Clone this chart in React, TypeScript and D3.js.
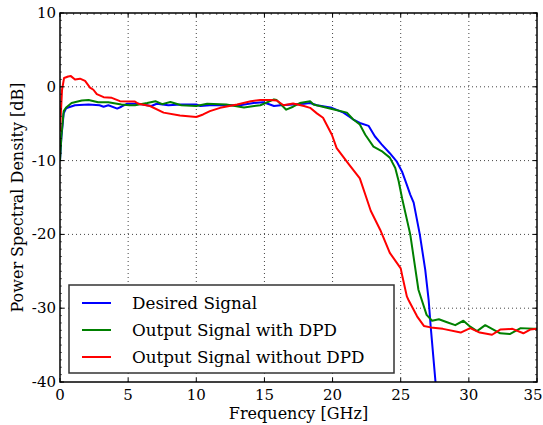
import React from "react";
import * as d3 from "d3";

const blueF = [0, 0.1, 0.27, 0.45, 0.6, 1.1, 2.1, 2.9, 3.2, 3.55, 4.2, 4.5, 4.9, 5.75, 6.7, 7.1, 7.95, 8.9, 10, 10.3, 11, 11.75, 13.2, 14.2, 14.9, 15.4, 15.7, 16.2, 17.1, 17.9, 18.35, 18.85, 19.95, 20.8, 21.5, 22.0, 22.65, 23.1, 23.6, 24.2, 24.7, 25.1, 25.45, 25.7, 25.95, 26.4, 26.8, 27.05, 27.2, 27.6];
const blueDb = [-10, -6.9, -3.6, -2.9, -2.8, -2.5, -2.4, -2.5, -2.7, -2.5, -2.95, -2.7, -2.3, -2.3, -2.6, -2.3, -2.5, -2.4, -2.4, -2.6, -2.5, -2.5, -2.5, -2.2, -2.1, -2.4, -2.6, -2.5, -2.4, -2.3, -2.2, -2.5, -2.85, -3.5, -4.4, -4.9, -5.3, -6.7, -7.8, -9.0, -10.1, -11.5, -13.3, -14.6, -15.7, -20.0, -24.8, -28.9, -32.5, -41];

const greenF = [0, 0.1, 0.27, 0.45, 0.85, 1.6, 2.1, 2.8, 3.55, 4.5, 5.1, 5.5, 6.4, 7.0, 7.5, 8.1, 8.9, 10, 10.8, 12.2, 13.5, 14.7, 15.7, 15.9, 16.6, 17.1, 17.6, 18.35, 18.6, 19.95, 21.05, 21.5, 22.0, 22.4, 23.0, 23.6, 24.2, 24.6, 24.85, 25.1, 25.7, 26.3, 26.9, 27.3, 27.8, 28.4, 29.0, 29.6, 30.1, 30.6, 31.2, 31.7, 32.3, 33.0, 33.8, 34.75, 35];
const greenDb = [-10, -6.7, -3.3, -2.8, -2.2, -1.86, -1.8, -2.1, -2.1, -2.4, -2.5, -2.5, -2.2, -1.95, -2.35, -2.05, -2.5, -2.6, -2.3, -2.4, -2.8, -2.5, -1.7, -1.8, -3.1, -2.7, -2.2, -1.95, -2.4, -3.0, -3.5, -4.4, -5.1, -6.5, -8.1, -8.7, -9.6, -11.0, -12.8, -15.1, -20, -27.5, -30.9, -31.7, -31.5, -31.9, -32.3, -31.7, -32.5, -33.1, -32.3, -32.8, -33.4, -33.5, -32.7, -32.8, -32.8];

const redF = [0, 0.15, 0.3, 0.6, 0.8, 1.1, 1.47, 1.84, 2.2, 2.45, 2.7, 3.2, 3.8, 4.4, 5.5, 5.75, 6.6, 7.6, 8.8, 10, 10.5, 11, 11.75, 13, 14, 14.7, 15.4, 15.9, 16.4, 17.1, 17.9, 18.35, 18.85, 19.3, 19.95, 20.3, 21.2, 22.0, 22.4, 22.8, 23.5, 24.2, 25.0, 25.1, 25.45, 25.6, 26.2, 26.7, 27.2, 28.1, 29.4, 30.1, 30.8, 31.7, 32.3, 33.2, 34.0, 34.5, 35];
const redDb = [-6, -0.4, 1.2, 1.4, 1.45, 1.0, 1.1, 0.8, -0.1, -0.4, -1.0, -1.4, -1.5, -1.95, -2.0, -2.3, -2.6, -3.5, -3.9, -4.1, -3.75, -3.3, -2.85, -2.4, -1.95, -1.8, -1.8, -1.85, -2.5, -2.25, -2.6, -2.85, -3.6, -4.2, -6.5, -8.3, -10.5, -12.4, -14.6, -16.8, -19.4, -22.5, -24.6, -25.5, -28.4, -29.0, -31.1, -32.4, -32.6, -32.8, -33.3, -32.7, -33.3, -33.6, -32.9, -32.8, -33.4, -32.9, -32.8];

const xTicks = [0, 5, 10, 15, 20, 25, 30, 35];
const yTicks = [-40, -30, -20, -10, 0, 10];
const seriesNames = ["Desired Signal", "Output Signal with DPD", "Output Signal without DPD"];
const seriesColors = ["#0000ff", "#008000", "#ff0000"];

const W = 543, H = 425;
const L = 60, R = 537, T = 13, B = 382;
const FONT = "DejaVu Serif";

export default function App() {
  const x = d3.scaleLinear().domain([0, 35]).range([L, R]);
  const y = d3.scaleLinear().domain([-40, 10]).range([B, T]);
  const line = d3.line<[number, number]>().x(d => x(d[0])).y(d => y(d[1]));
  const series = [
    blueF.map((f, i) => [f, blueDb[i]] as [number, number]),
    greenF.map((f, i) => [f, greenDb[i]] as [number, number]),
    redF.map((f, i) => [f, redDb[i]] as [number, number]),
  ];
  const minorY = d3.range(-40, 10.01, 1);
  const minorX = d3.range(0, 35.01, 0.5);
  return (
    <svg width={W} height={H} style={{ position: "absolute", left: 0, top: 0 }} fontFamily={FONT}>
      <rect width={W} height={H} fill="#fff" />
      <defs>
        <clipPath id="plot"><rect x={L} y={T} width={R - L} height={B - T} /></clipPath>
      </defs>
      {xTicks.slice(1, -1).map(t => (
        <line key={"gx" + t} x1={x(t)} x2={x(t)} y1={T} y2={B} stroke="#444" strokeWidth={1} strokeDasharray="1,3" />
      ))}
      {yTicks.slice(1, -1).map(t => (
        <line key={"gy" + t} x1={L} x2={R} y1={y(t)} y2={y(t)} stroke="#444" strokeWidth={1} strokeDasharray="1,3" />
      ))}
      <g clipPath="url(#plot)">
        {series.map((s, i) => (
          <path key={i} d={line(s) || ""} fill="none" stroke={seriesColors[i]} strokeWidth={2} strokeLinejoin="round" />
        ))}
      </g>
      {minorY.map(t => (
        <g key={"my" + t}>
          <line x1={L} x2={L + 2} y1={y(t)} y2={y(t)} stroke="#000" strokeWidth={0.6} />
          <line x1={R} x2={R - 2} y1={y(t)} y2={y(t)} stroke="#000" strokeWidth={0.6} />
        </g>
      ))}
      {minorX.map(t => (
        <line key={"mx" + t} x1={x(t)} x2={x(t)} y1={T} y2={T + 2} stroke="#000" strokeWidth={0.6} />
      ))}
      {xTicks.map(t => (
        <g key={"tx" + t}>
          <line x1={x(t)} x2={x(t)} y1={B} y2={B - 4} stroke="#000" />
          <line x1={x(t)} x2={x(t)} y1={T} y2={T + 4} stroke="#000" />
          <text x={Math.min(x(t), 533)} y={400} textAnchor="middle" fontSize={15}>{t}</text>
        </g>
      ))}
      {yTicks.map(t => (
        <g key={"ty" + t}>
          <line x1={L} x2={L + 4} y1={y(t)} y2={y(t)} stroke="#000" />
          <line x1={R} x2={R - 4} y1={y(t)} y2={y(t)} stroke="#000" />
          <text x={56} y={y(t) + 5} textAnchor="end" fontSize={15}>{t < 0 ? "-" + Math.abs(t) : t}</text>
        </g>
      ))}
      <rect x={L} y={T} width={R - L} height={B - T} fill="none" stroke="#000" strokeWidth={1.5} />
      <text x={(L + R) / 2} y={419} textAnchor="middle" fontSize={16}>Frequency [GHz]</text>
      <text transform={`translate(23,${(T + B) / 2}) rotate(-90)`} textAnchor="middle" fontSize={16}>Power Spectral Density [dB]</text>
      <rect x={69} y={285} width={325} height={88} fill="#fff" stroke="#333" strokeWidth={1.5} />
      {seriesNames.map((n, i) => (
        <g key={n}>
          <line x1={82} x2={111} y1={303 + i * 27} y2={303 + i * 27} stroke={seriesColors[i]} strokeWidth={2} />
          <text x={132} y={303 + i * 27 + 5.5} fontSize={16.8}>{n}</text>
        </g>
      ))}
    </svg>
  );
}
